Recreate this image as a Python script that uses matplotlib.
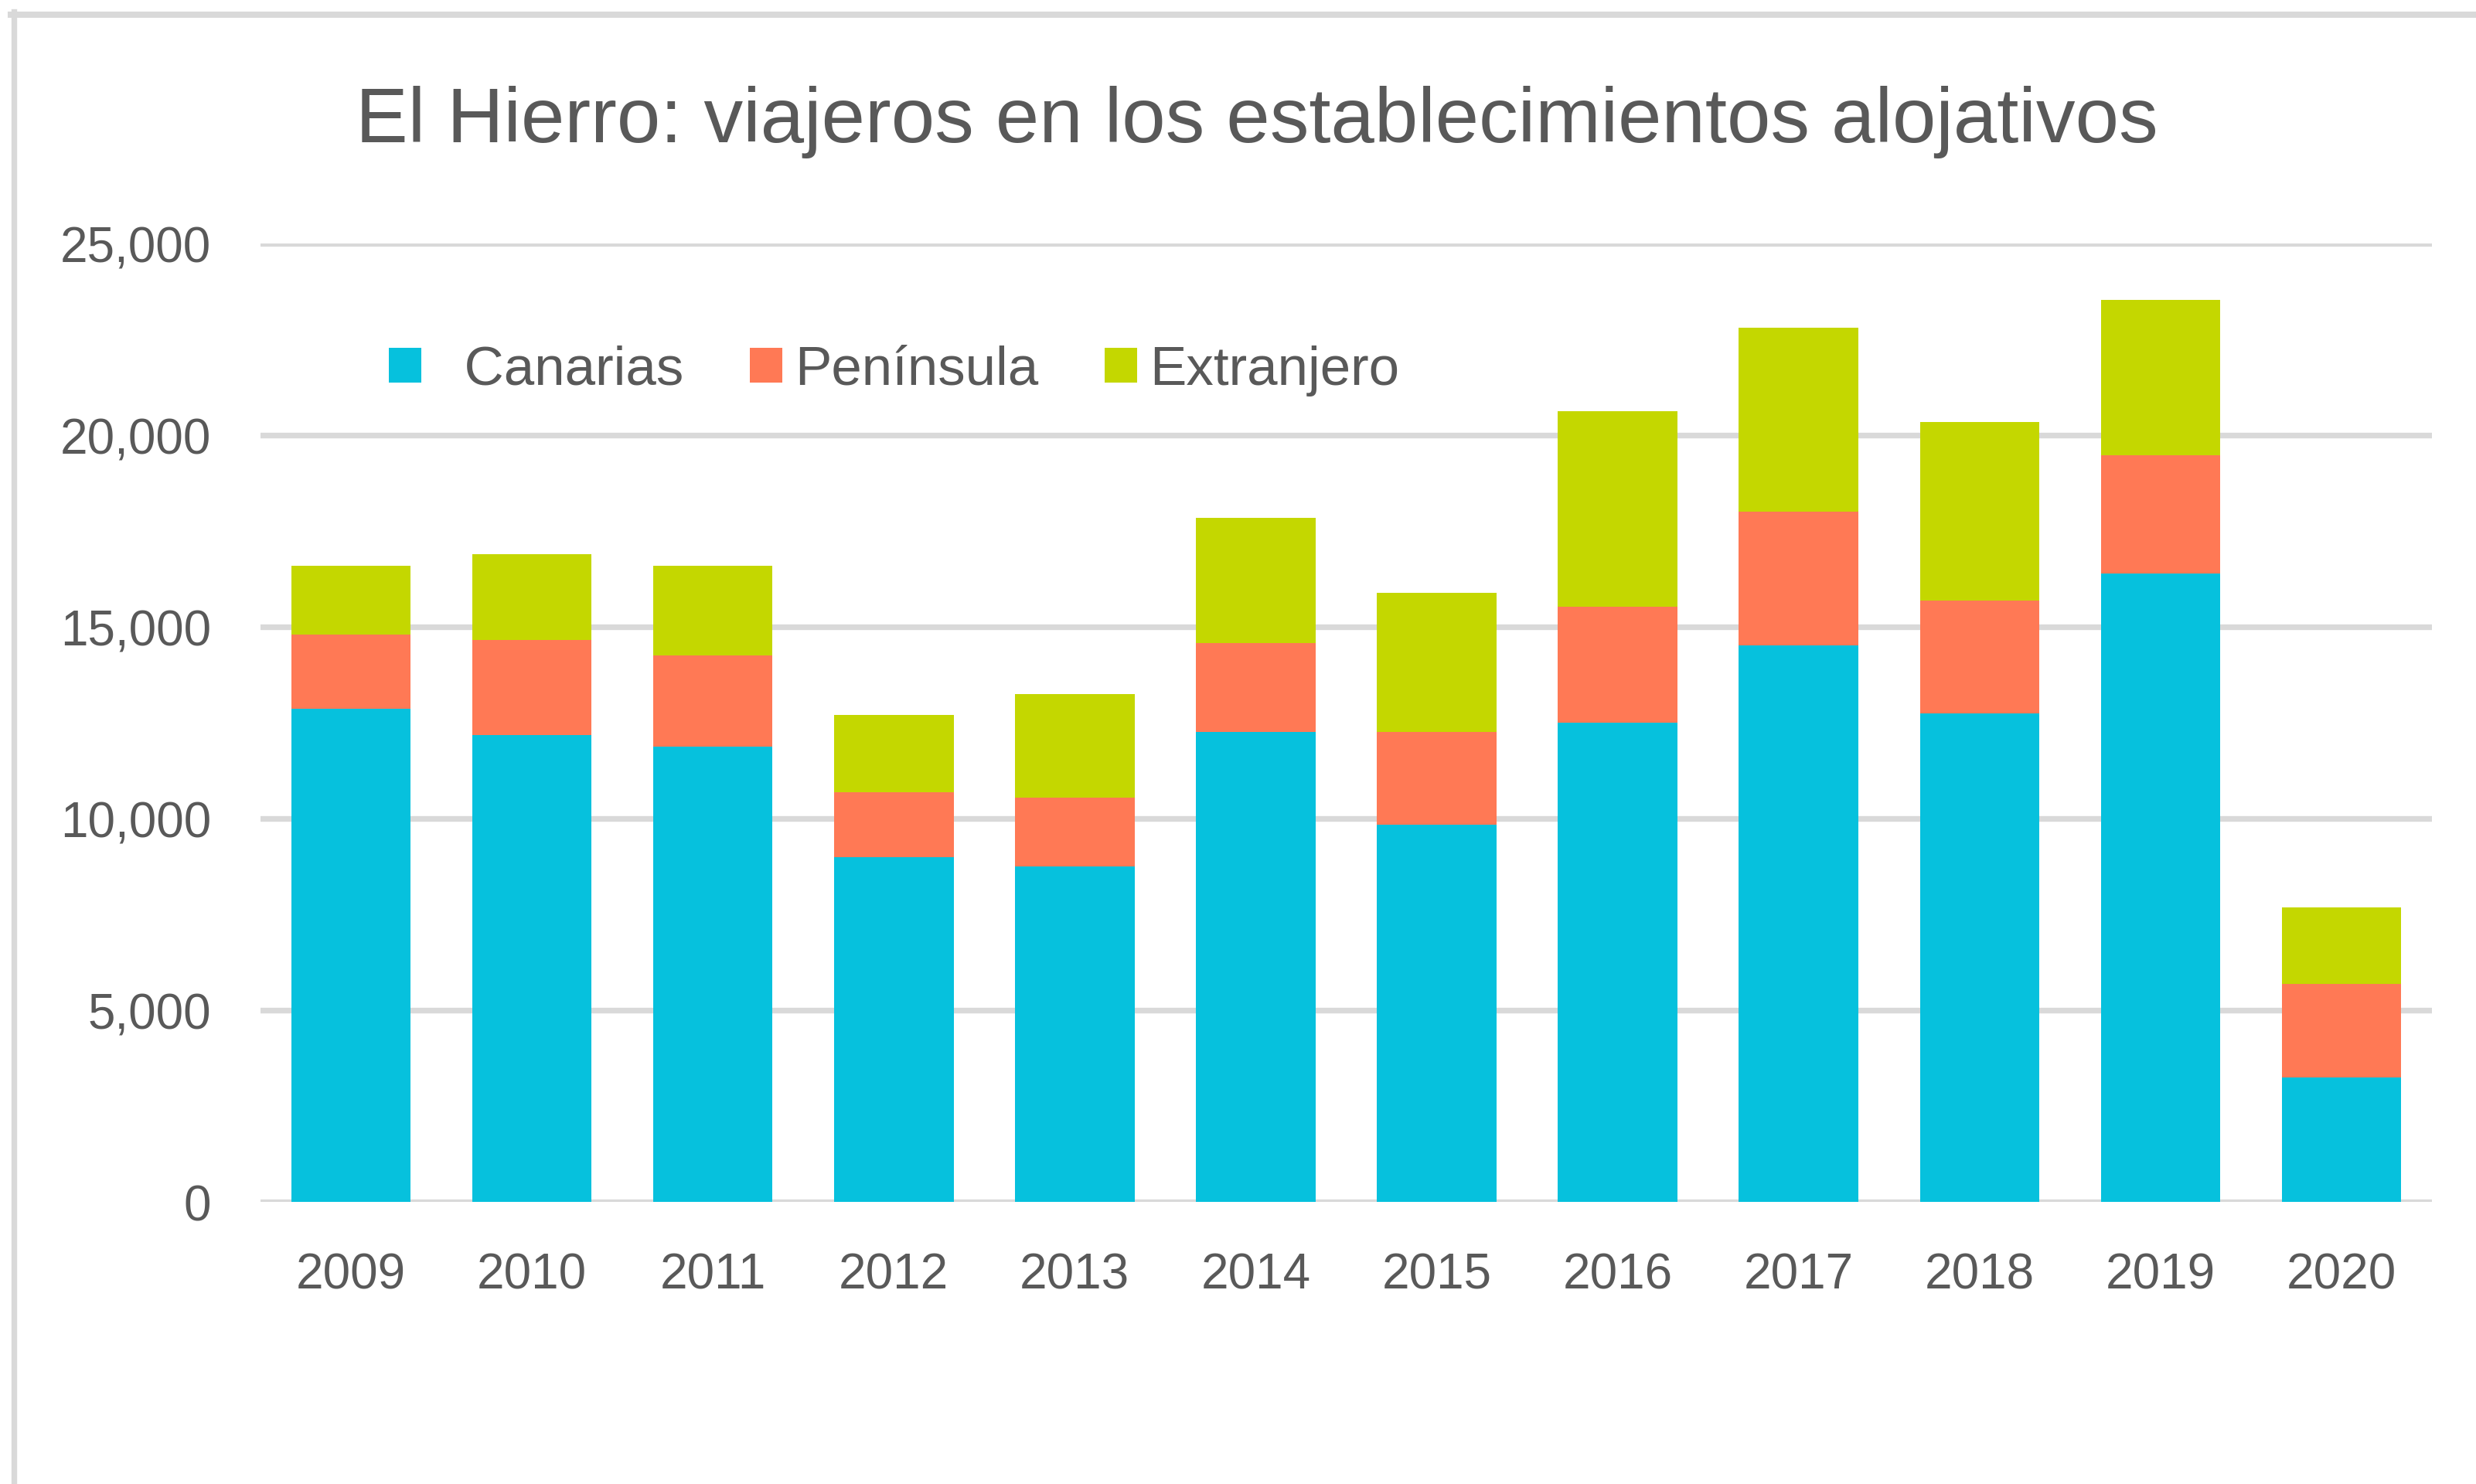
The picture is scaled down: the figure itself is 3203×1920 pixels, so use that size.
import matplotlib
matplotlib.use("Agg")
import matplotlib.pyplot as plt
from matplotlib.lines import Line2D
from matplotlib.ticker import FuncFormatter, MultipleLocator
import numpy as np

years = ["2009", "2010", "2011", "2012", "2013", "2014", "2015", "2016", "2017", "2018", "2019", "2020"]
canarias = [12860, 12180, 11870, 8990, 8750, 12260, 9840, 12510, 14530, 12750, 16390, 3240]
peninsula = [1940, 2480, 2380, 1700, 1800, 2330, 2420, 3030, 3490, 2950, 3100, 2450]
extranjero = [1790, 2240, 2340, 2020, 2700, 3260, 3630, 5100, 4800, 4650, 4040, 1990]
series_names = ["  Canarias", "Península", "Extranjero"]
title = "El Hierro: viajeros en los establecimientos alojativos"

colors = ["#06C1DD", "#FF7955", "#C4D700"]
text_color = "#595959"
grid_color = "#D9D9D9"

plt.rcParams["font.family"] = ["Liberation Sans", "DejaVu Sans"]

W, H = 3203, 1921
fig = plt.figure(figsize=(W / 100, 19.205), dpi=100)
ax = fig.add_axes([337 / W, 1 - 1556 / H, (3146 - 337) / W, (1556 - 316) / H])

x = np.arange(len(years))
can = np.array(canarias)
pen = np.array(peninsula)
ext = np.array(extranjero)
bw = 0.66
ax.bar(x, can, bw, color=colors[0], label=series_names[0], zorder=3)
ax.bar(x, pen, bw, bottom=can, color=colors[1], label=series_names[1], zorder=3)
ax.bar(x, ext, bw, bottom=can + pen, color=colors[2], label=series_names[2], zorder=3)

ax.set_xlim(-0.5, len(years) - 0.5)
ax.set_ylim(0, 25000)
ax.yaxis.set_major_locator(MultipleLocator(5000))
ax.yaxis.set_major_formatter(FuncFormatter(lambda v, p: f"{int(v):,}"))
ax.set_xticks(x)
ax.set_xticklabels(years)
ax.grid(axis="y", color=grid_color, linewidth=5.3, zorder=0)
ax.grid(axis="x", visible=False)
for s in ax.spines.values():
    s.set_visible(False)
ax.tick_params(axis="both", length=0, labelsize=46, colors=text_color)
ax.tick_params(axis="y", pad=46)
ax.tick_params(axis="x", pad=47)

leg = ax.legend(loc="center left", bbox_to_anchor=(503 / W, 1 - 480 / H),
                bbox_transform=fig.transFigure, ncol=3, frameon=False,
                fontsize=51, handlelength=0.59, handleheight=0.59,
                handletextpad=0.23, columnspacing=1.21, borderpad=0, borderaxespad=0)
for t in leg.get_texts():
    t.set_color(text_color)

fig.text(1626 / W, 1 - 184 / H, title, ha="center", va="baseline",
         fontsize=73, color=text_color)

# chart area border (partially visible)
fig.add_artist(Line2D([17.5 / W, 17.5 / W], [0, 1 - 16 / H], transform=fig.transFigure,
                      color=grid_color, linewidth=5.3))
fig.add_artist(Line2D([14 / W, 1], [1 - 20 / H, 1 - 20 / H], transform=fig.transFigure,
                      color=grid_color, linewidth=5.8))

fig.savefig("out.png", dpi=100, facecolor="white")
